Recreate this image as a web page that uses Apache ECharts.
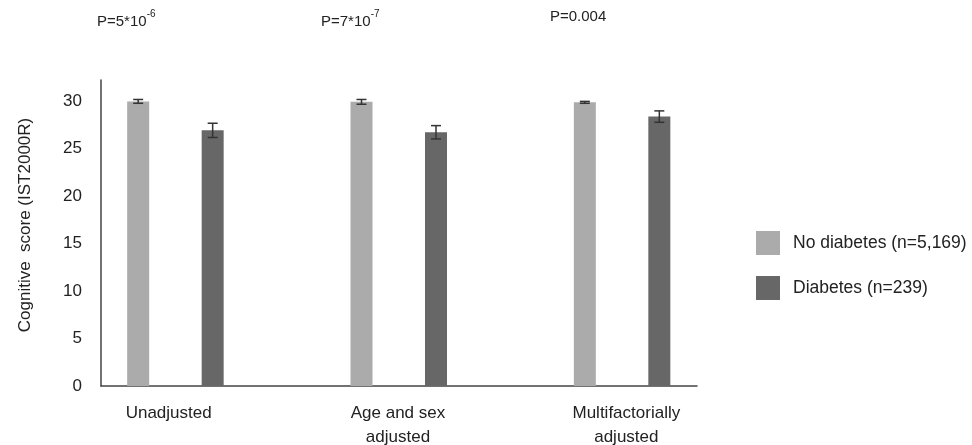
<!DOCTYPE html>
<html>
<head>
<meta charset="utf-8">
<script src="https://cdn.jsdelivr.net/npm/echarts@6/dist/echarts.min.js"></script>
<style>
html,body{margin:0;padding:0;background:#fff;}
#chart{width:972px;height:445px;}
</style>
</head>
<body>
<div id="chart"></div>
<script>
// ---- data ----
const categories = ['Unadjusted', 'Age and sex\nadjusted', 'Multifactorially\nadjusted'];
const seriesNames = ['No diabetes (n=5,169)', 'Diabetes (n=239)'];
const noDiabetes = [29.95, 29.9, 29.85];
const noDiabetesErr = [0.2, 0.25, 0.1];
const diabetes = [26.9, 26.7, 28.35];
const diabetesErr = [0.75, 0.7, 0.6];
const pLabels = [['5', '-6'], ['7', '-7'], ['0.004', null]];
const yTicks = { min: 0, max: 32.2, interval: 5 };

// ---- layout constants ----
const BAR_W = 22, GAP = 52.5;
const LIGHT = '#ababab', DARK = '#676767', AXIS = '#444', TXT = '#222';
const FONT = 'Liberation Sans, Arial, sans-serif';
const FS = 17;
const LABEL_PAD = [88, 76, 66];

const chart = echarts.init(document.getElementById('chart'));

function errData(vals, errs) {
  return vals.map((v, i) => [i, v, errs[i]]);
}
function errSeries(name, vals, errs, offset) {
  return {
    type: 'custom',
    name: name + ' err',
    xAxisIndex: 0, yAxisIndex: 0,
    z: 5,
    data: errData(vals, errs),
    renderItem: function (params, api) {
      const i = api.value(0), v = api.value(1), e = api.value(2);
      const hi = api.coord([i, v + e]);
      const lo = api.coord([i, v - e]);
      const x = hi[0] + offset;
      const cap = 5;
      const st = { stroke: '#333', lineWidth: 1.5 };
      return {
        type: 'group',
        children: [
          { type: 'line', shape: { x1: x, y1: hi[1], x2: x, y2: lo[1] }, style: st },
          { type: 'line', shape: { x1: x - cap, y1: hi[1], x2: x + cap, y2: hi[1] }, style: st },
          { type: 'line', shape: { x1: x - cap, y1: lo[1], x2: x + cap, y2: lo[1] }, style: st }
        ]
      };
    }
  };
}

const pX = [97, 321, 550];
const graphics = pLabels.map((p, i) => ({
  type: 'text',
  left: pX[i],
  top: 9,
  style: {
    text: p[1] ? '{m|P=' + p[0] + '*10}{s|' + p[1] + '}' : '{m|P=' + p[0] + '}',
    rich: {
      m: { fontSize: 15, fontFamily: FONT, fill: TXT, lineHeight: 20, verticalAlign: 'bottom' },
      s: { fontSize: 10, fontFamily: FONT, fill: TXT, lineHeight: 20, verticalAlign: 'top' }
    }
  }
}));

const labelRich = {};
LABEL_PAD.forEach((p, i) => {
  labelRich['c' + i] = { fontSize: FS, fontFamily: FONT, color: TXT, lineHeight: 24, padding: [0, p, 0, 0], align: 'center' };
});

chart.setOption({
  animation: false,
  backgroundColor: '#fff',
  grid: [
    { left: 101, right: 972 - 771, top: 80, bottom: 59, outerBoundsMode: 'none', containLabel: false },
    { left: 101, right: 972 - 697, top: 80, bottom: 59, outerBoundsMode: 'none', containLabel: false }
  ],
  legend: {
    data: seriesNames,
    orient: 'vertical',
    left: 751,
    top: 226,
    itemWidth: 24,
    itemHeight: 24,
    itemGap: 21,
    icon: 'rect',
    textStyle: { fontSize: 17.5, fontFamily: FONT, color: TXT, padding: [0, 0, 0, 8] }
  },
  xAxis: [
    {
      type: 'category', gridIndex: 0, data: categories,
      axisLine: { show: false }, axisTick: { show: false },
      axisLabel: {
        fontSize: FS, fontFamily: FONT, color: TXT, lineHeight: 24, margin: 15, interval: 0,
        formatter: function (value, index) { return '{c' + index + '|' + value + '}'; },
        rich: labelRich
      }
    },
    {
      type: 'category', gridIndex: 1, data: [''],
      axisLine: { show: true, lineStyle: { color: AXIS, width: 1.5 } },
      axisTick: { show: false }, axisLabel: { show: false }
    }
  ],
  yAxis: [
    {
      type: 'value', gridIndex: 0,
      min: yTicks.min, max: yTicks.max, interval: yTicks.interval,
      name: 'Cognitive  score (IST2000R)',
      nameLocation: 'middle', nameGap: 67,
      nameTextStyle: { fontSize: FS, fontFamily: FONT, color: TXT, padding: [0, 0, 0, 16] },
      axisLine: { show: true, lineStyle: { color: AXIS, width: 1.5 } },
      axisTick: { show: false },
      splitLine: { show: false },
      axisLabel: { fontSize: FS, fontFamily: FONT, color: TXT, margin: 19, showMaxLabel: false }
    },
    { type: 'value', gridIndex: 1, min: yTicks.min, max: yTicks.max, show: false }
  ],
  series: [
    {
      type: 'bar', name: seriesNames[0], data: noDiabetes,
      barWidth: BAR_W, barGap: (GAP / BAR_W * 100).toFixed(1) + '%',
      itemStyle: { color: LIGHT }
    },
    {
      type: 'bar', name: seriesNames[1], data: diabetes,
      barWidth: BAR_W,
      itemStyle: { color: DARK }
    },
    {
      type: 'bar', name: 'spacer', data: ['-', '-', '-'],
      barWidth: BAR_W, silent: true
    },
    errSeries(seriesNames[0], noDiabetes, noDiabetesErr, -(BAR_W + GAP)),
    errSeries(seriesNames[1], diabetes, diabetesErr, 0)
  ],
  graphic: graphics
});
</script>
</body>
</html>
